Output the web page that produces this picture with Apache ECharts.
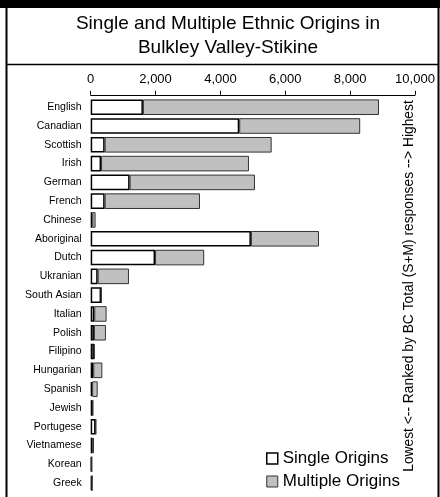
<!DOCTYPE html>
<html><head><meta charset="utf-8">
<script src="https://cdn.jsdelivr.net/npm/echarts@6/dist/echarts.min.js"></script>
<style>html,body{margin:0;padding:0;background:#fff}#c{width:440px;height:497px}</style>
</head><body><div id="c"></div>
<script>
const categories = ["English","Canadian","Scottish","Irish","German","French","Chinese","Aboriginal","Dutch","Ukranian","South Asian","Italian","Polish","Filipino","Hungarian","Spanish","Jewish","Portugese","Vietnamese","Korean","Greek"];
const singleOrigins = [1610, 4580, 430, 320, 1200, 430, 50, 4940, 1985, 215, 320, 110, 100, 100, 80, 45, 60, 150, 60, 30, 40];
const multipleOrigins = [7280, 3730, 5150, 4560, 3865, 2940, 100, 2100, 1515, 965, 10, 380, 370, 20, 280, 170, 10, 15, 40, 5, 5];
const xTicks = [0, 2000, 4000, 6000, 8000, 10000];

const FONT = "'Liberation Sans', Arial, sans-serif";
const chart = echarts.init(document.getElementById('c'), null, {renderer: 'canvas'});
chart.setOption({
  animation: false,
  backgroundColor: '#fff',
  textStyle: {fontFamily: FONT},
  title: {
    text: 'Single and Multiple Ethnic Origins in\nBulkley Valley-Stikine',
    left: 228, textAlign: 'center', top: 12, padding: 0,
    textStyle: {fontFamily: FONT, fontSize: 19, fontWeight: 'normal', color: '#000', lineHeight: 24, align: 'center'}
  },
  legend: {
    orient: 'vertical', left: 266, top: 450, padding: 0, height: 48,
    itemWidth: 11, itemHeight: 11, itemGap: 6,
    textStyle: {fontFamily: FONT, fontSize: 17, color: '#000'},
    data: [
      {name: 'Single Origins', icon: 'rect', itemStyle: {color: '#fff', borderColor: '#000', borderWidth: 1.5}},
      {name: 'Multiple Origins', icon: 'rect', itemStyle: {color: '#c0c0c0', borderColor: '#333', borderWidth: 1}}
    ]
  },
  grid: {left: 90.7, top: 97.8, right: 25, bottom: 4.5, containLabel: false},
  xAxis: {
    type: 'value', position: 'top', offset: 3,
    min: xTicks[0], max: xTicks[xTicks.length-1], interval: xTicks[1]-xTicks[0],
    axisLine: {show: true, lineStyle: {color: '#000', width: 1}},
    axisTick: {show: true, length: 4, lineStyle: {color: '#000'}},
    splitLine: {show: false},
    axisLabel: {color: '#000', fontSize: 13, fontFamily: FONT, margin: 9,
      formatter: v => v.toLocaleString('en-US')}
  },
  yAxis: {
    type: 'category', inverse: true, data: categories,
    axisLine: {show: false}, axisTick: {show: false},
    axisLabel: {color: '#000', fontSize: 10.5, fontFamily: FONT, margin: 9}
  },
  series: [
    {name: 'Single Origins', type: 'bar', stack: 't', data: singleOrigins, barCategoryGap: '17%',
      itemStyle: {color: '#fff', borderColor: '#000', borderWidth: 1.5}},
    {name: 'Multiple Origins', type: 'bar', stack: 't', data: multipleOrigins, barCategoryGap: '17%',
      itemStyle: {color: '#c0c0c0', borderColor: '#333', borderWidth: 1}}
  ],
  graphic: [
    {type: 'rect', shape: {x: 0, y: 0, width: 440, height: 8}, style: {fill: '#000'}, silent: true},
    {type: 'rect', shape: {x: 6.5, y: 4, width: 432, height: 500}, style: {fill: 'none', stroke: '#000', lineWidth: 2}, silent: true},
    {type: 'line', shape: {x1: 6, y1: 64.5, x2: 439, y2: 64.5}, style: {stroke: '#000', lineWidth: 1.5}, silent: true},
    {type: 'text', x: 409, y: 286, rotation: Math.PI/2,
      style: {text: 'Lowest <-- Ranked by BC Total (S+M) responses --> Highest', fontFamily: FONT, fontSize: 13.8, fill: '#000', align: 'center', verticalAlign: 'middle'}, silent: true}
  ]
});
</script></body></html>
